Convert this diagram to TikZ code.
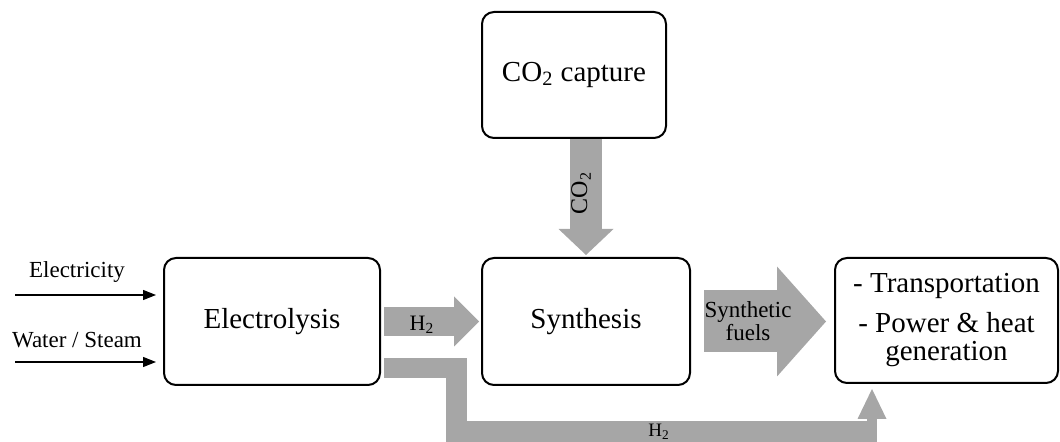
\documentclass[tikz,border=0pt]{standalone}
\usepackage{fontspec}
\setmainfont{Liberation Serif}
\usetikzlibrary{arrows.meta,calc}
\definecolor{fatgray}{HTML}{A6A6A6}
\begin{document}
\begin{tikzpicture}[x=0.5pt,y=-0.5pt,
	box/.style={draw, line width=1pt, rounded corners=6pt, align=center, inner sep=0, font=\fontsize{14.5}{14}\selectfont},
	feed/.style={line width=0.6pt, -{Triangle[length=6.5pt,width=5pt]}, shorten >=3.5pt},
	fat/.style={draw=fatgray, line cap=butt, line join=miter},
	lbl/.style={inner sep=0, align=center, font=\fontsize{11.5}{11.5}\selectfont}]
	\useasboundingbox (0,0) rectangle (1060,442);
	% process blocks
	\node[box, minimum width=92pt, minimum height=63pt] (capt) at (574,75) {CO\textsubscript{2} capture};
	\node[box, minimum width=108pt, minimum height=63.5pt] (elec) at (272,321.5) {Electrolysis};
	\node[box, minimum width=104pt, minimum height=63.5pt] (syn) at (586,321.5) {Synthesis};
	\node[box, minimum width=111.5pt, minimum height=62.5pt] (uses) at (946.5,320.5) {- Transportation\\[6pt] - Power \& heat\\ generation};
	% inputs
	\coordinate (powsrc) at (15,295);
	\coordinate (watsrc) at (15,362);
	\draw[feed] (powsrc) -- (powsrc -| elec.west);
	\draw[feed] (watsrc) -- (watsrc -| elec.west);
	\node[lbl] (powlab) at (77,272) {Electricity};
	\node[lbl] (watlab) at (77,340) {Water / Steam};
	% material flows
	\draw[fat, line width=14.5pt, -{Triangle[length=12.5pt,width=25pt,line width=0pt]}, shorten <=1.5pt, shorten >=1pt] (elec.east) -- (syn.west);
	\draw[fat, line width=16pt, -{Triangle[length=13pt,width=27.5pt,line width=0pt]}, shorten >=1pt] (syn.north |- capt.south) -- (syn.north);
	\draw[fat, line width=31pt, -{Triangle[length=24.5pt,width=55pt,line width=0pt]}, shorten <=6.5pt, shorten >=4pt] (syn.east) -- (syn.east -| uses.west);
	\coordinate (lowout) at ($(elec.east)+(3,46.5)$);
	\coordinate (lowin) at (872,442);
	\draw[fat, line width=10.25pt] (lowout) -| (456.5,431.5) -- (877,431.5);
	\draw[fat, line width=5pt, -{Triangle[length=15pt,width=14.5pt,line width=0pt]}, shorten >=2.5pt] (lowin) -- (lowin |- uses.south);
	\node[lbl, font=\fontsize{11}{11}\selectfont] (h2lab) at (422,325) {H\textsubscript{2}};
	\node[lbl, font=\fontsize{12}{12}\selectfont, rotate=90] (co2lab) at (581,193) {CO\textsubscript{2}};
	\node[lbl] (fuellab) at (748,321) {Synthetic\\fuels};
	\node[lbl, font=\fontsize{9.5}{9.5}\selectfont] (h2lowlab) at (659,432) {H\textsubscript{2}};
\end{tikzpicture}
\end{document}
